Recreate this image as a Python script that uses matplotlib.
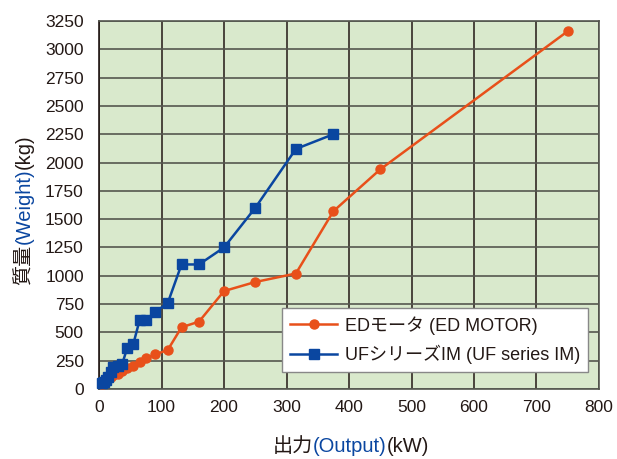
import matplotlib
matplotlib.use("Agg")
import matplotlib.pyplot as plt
import numpy as np

plt.rcParams['font.family'] = ['Liberation Sans', 'Noto Sans CJK JP', 'DejaVu Sans']

# ED motor (output kW, weight kg)
ed_kw = [5.5, 7.5, 11, 15, 18.5, 22, 30, 37, 45, 55, 65, 75, 90, 110, 132, 160, 200, 250, 315, 375, 450, 750]
ed_kg = [45, 55, 70, 90, 110, 120, 135, 160, 185, 205, 240, 270, 305, 345, 545, 595, 865, 945, 1020, 1570, 1940, 3160]

# UF series IM
uf_kw = [5.5, 7.5, 11, 15, 18.5, 22, 30, 37, 45, 55, 65, 75, 90, 110, 132, 160, 200, 250, 315, 375]
uf_kg = [50, 60, 80, 110, 150, 190, 200, 220, 360, 400, 610, 610, 680, 760, 1100, 1100, 1250, 1600, 2120, 2250]

ed_label = "EDモータ (ED MOTOR)"
uf_label = "UFシリーズIM (UF series IM)"

orange = "#e8501a"
blue = "#0a46a0"
ink = "#231815"

fig = plt.figure(figsize=(6.17, 4.59), dpi=100)
ax = fig.add_axes([0.1605, 0.1525, 0.8103, 0.8017])
ax.set_facecolor("#d9e9cc")

ax.set_xlim(0, 800)
ax.set_ylim(0, 3250)
ax.set_xticks(np.arange(0, 801, 100))
ax.set_yticks(np.arange(0, 3251, 250))
ax.tick_params(axis='both', length=0, labelsize=12.5, colors=ink)
ax.tick_params(axis='y', pad=11)
ax.tick_params(axis='x', pad=8)

ax.xaxis.grid(True, color=ink, lw=1.1)
ax.yaxis.grid(True, color="#55574f", lw=1.2)
ax.set_axisbelow(True)
for s in ax.spines.values():
    s.set_color("#55574f")
    s.set_linewidth(1.2)
ax.spines['left'].set_color(ink)

ax.plot(ed_kw, ed_kg, '-o', color=orange, lw=1.8, ms=6.5, label=ed_label, clip_on=False, zorder=3)
ax.plot(uf_kw, uf_kg, '-s', color=blue, lw=1.8, ms=7, label=uf_label, clip_on=False, zorder=4)

leg = ax.legend(loc='lower right', bbox_to_anchor=(0.978, 0.046), borderaxespad=0,
                fancybox=False, edgecolor="#888888", framealpha=1, fontsize=13,
                handlelength=2.6, handletextpad=0.4, labelspacing=0.55, borderpad=0.45)
leg.get_frame().set_linewidth(1.0)
for t in leg.get_texts():
    t.set_color(ink)

# x label with mixed colours
t1 = fig.text(0.442, 0.006, "出力", fontsize=14.5, color=ink, ha='left', va='bottom')
t2 = fig.text(0, 0, "(Output)", fontsize=14.5, color=blue, ha='left', va='bottom')
t3 = fig.text(0, 0, "(kW)", fontsize=14.5, color=ink, ha='left', va='bottom')
# y label with mixed colours
u1 = fig.text(0.024, 0.38, "質量", fontsize=14.5, color=ink, rotation=90, ha='left', va='bottom')
u2 = fig.text(0, 0, "(Weight)", fontsize=14.5, color=blue, rotation=90, ha='left', va='bottom')
u3 = fig.text(0, 0, "(kg)", fontsize=14.5, color=ink, rotation=90, ha='left', va='bottom')

fig.canvas.draw()
r = fig.canvas.get_renderer()
inv = fig.transFigure.inverted()
for a, b in [(t1, t2), (t2, t3)]:
    bb = a.get_window_extent(r)
    x, y = inv.transform((bb.x1, bb.y0))
    b.set_position((x, y))
for a, b in [(u1, u2), (u2, u3)]:
    bb = a.get_window_extent(r)
    x, y = inv.transform((bb.x0, bb.y1))
    b.set_position((x, y))

fig.savefig("out.png", dpi=100)
